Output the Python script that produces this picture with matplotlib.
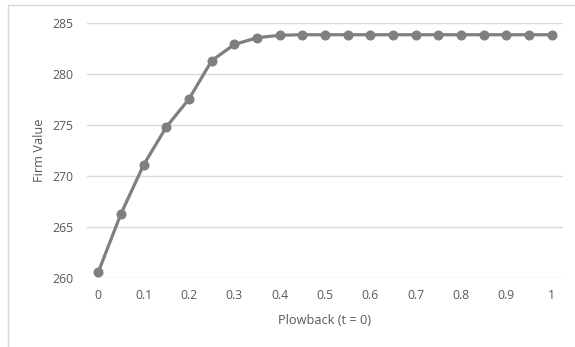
import matplotlib
matplotlib.use("Agg")
import matplotlib.pyplot as plt
from matplotlib.lines import Line2D

plowback = [0, 0.05, 0.1, 0.15, 0.2, 0.25, 0.3, 0.35, 0.4, 0.45, 0.5,
            0.55, 0.6, 0.65, 0.7, 0.75, 0.8, 0.85, 0.9, 0.95, 1.0]
firm_value = [260.6, 266.3, 271.1, 274.8, 277.55, 281.3, 282.9, 283.55, 283.8, 283.85, 283.85,
              283.85, 283.85, 283.85, 283.85, 283.85, 283.85, 283.85, 283.85, 283.85, 283.85]
x_ticks = [0, 0.1, 0.2, 0.3, 0.4, 0.5, 0.6, 0.7, 0.8, 0.9, 1.0]
x_tick_labels = ["0", "0.1", "0.2", "0.3", "0.4", "0.5", "0.6", "0.7", "0.8", "0.9", "1"]
y_ticks = [260, 265, 270, 275, 280, 285]

plt.rcParams['font.family'] = ['Open Sans', 'DejaVu Sans']
W, H = 575, 347
fig = plt.figure(figsize=(W / 100, H / 100), dpi=100)
ax = fig.add_axes([87 / W, 1 - 278 / H, (563 - 87) / W, (278 - 23) / H])

ax.plot(plowback, firm_value, color="#7f7f7f", lw=2.3, marker="o", ms=6.2,
        markerfacecolor="#7f7f7f", markeredgecolor="#7f7f7f", zorder=3)

ax.set_xlim(-0.025, 1.025)
ax.set_ylim(260, 285)
ax.set_yticks(y_ticks)
ax.set_xticks(x_ticks)
ax.set_xticklabels(x_tick_labels)
ax.yaxis.grid(True, color="#d9d9d9", lw=1)
ax.set_axisbelow(True)
for s in ax.spines.values():
    s.set_visible(False)
ax.tick_params(length=0, labelsize=8.8, colors="#595959", pad=8)
ax.tick_params(axis='y', pad=10)
ax.set_xlabel("Plowback (t = 0)", fontsize=9.2, color="#595959", labelpad=8.5)
ax.set_ylabel("Firm Value", fontsize=9.2, color="#595959", labelpad=4)

# chart frame (partially visible)
fig.add_artist(Line2D([8 / W, 1], [1 - 5 / H, 1 - 5 / H], color="#d9d9d9", lw=1, transform=fig.transFigure))
fig.add_artist(Line2D([8 / W, 8 / W], [0, 1 - 5 / H], color="#d9d9d9", lw=1, transform=fig.transFigure))

fig.savefig("out.png", dpi=100)
